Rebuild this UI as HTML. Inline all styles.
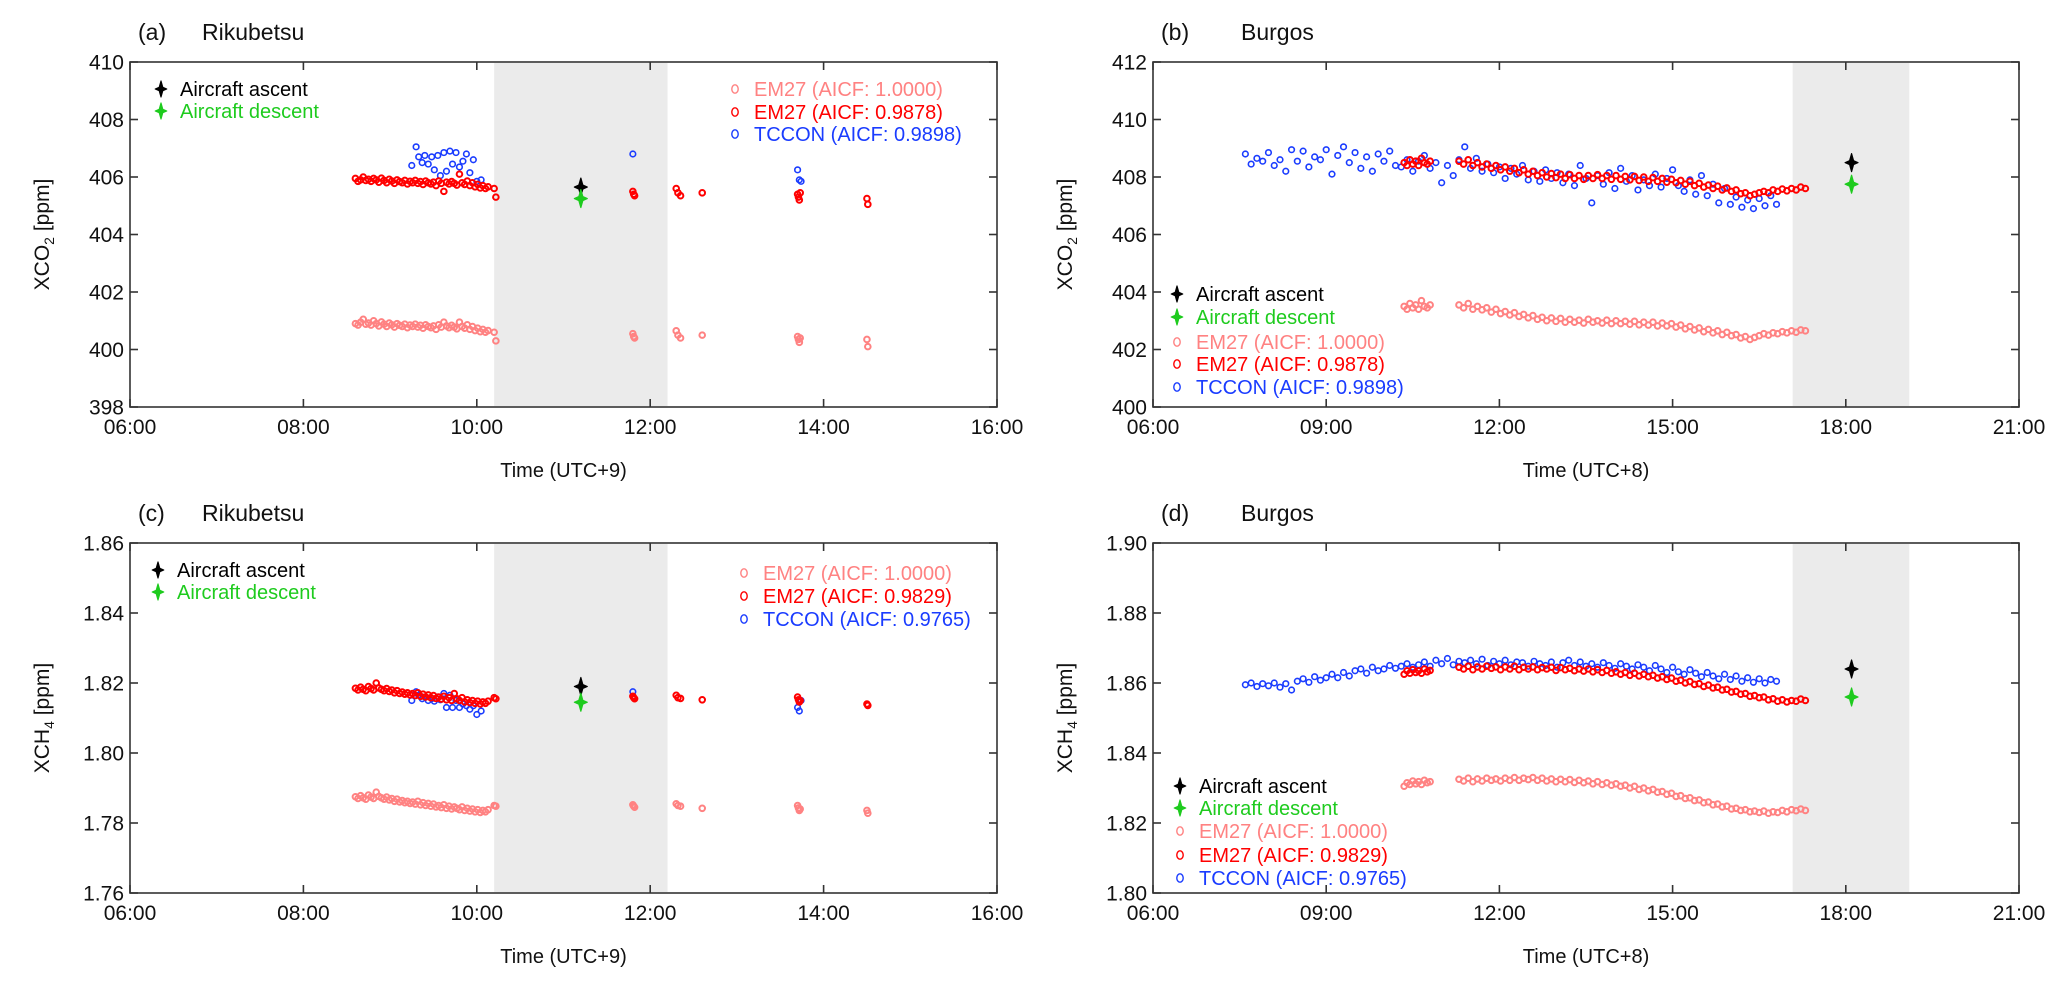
<!DOCTYPE html>
<html><head><meta charset="utf-8"><style>
html,body{margin:0;padding:0;background:#fff;}
svg{display:block;font-family:"Liberation Sans",Arial,sans-serif;}
</style></head><body>
<svg id="fig" width="2067" height="986" viewBox="0 0 2067 986" xmlns="http://www.w3.org/2000/svg"></svg>
<script>
// ---------- DATA ----------
var rikTimeEM = [8.60,8.63,8.66,8.69,8.72,8.75,8.78,8.81,8.84,8.87,8.90,8.93,8.96,8.99,9.02,9.05,9.08,9.11,9.14,9.17,9.20,9.23,9.26,9.29,9.32,9.35,9.38,9.41,9.44,9.47,9.50,9.53,9.56,9.59,9.62,9.65,9.68,9.71,9.74,9.77,9.80,9.83,9.86,9.89,9.92,9.95,9.98,10.01,10.04,10.07,10.10,10.13,
 10.20,10.22,11.80,11.81,11.82,12.30,12.32,12.35,12.60,13.70,13.71,13.72,13.73,14.50,14.51];
var rikTimeTC = [9.25,9.30,9.33,9.37,9.40,9.44,9.48,9.51,9.55,9.58,9.62,9.65,9.69,9.72,9.76,9.80,9.84,9.88,9.92,9.96,10.00,10.05,11.80,13.70,13.72,13.74];
var aCo2Em27Adj = [405.95,405.85,405.90,406.00,405.88,405.92,405.85,405.95,405.90,405.82,405.96,405.88,405.80,405.92,405.86,405.78,405.90,405.84,405.80,405.88,405.76,405.85,405.80,405.88,405.78,405.84,405.74,405.86,405.80,405.76,405.82,405.70,405.86,405.78,405.50,405.82,405.76,405.84,405.78,405.72,406.10,405.80,405.74,405.86,405.70,405.80,405.66,405.74,405.62,405.70,405.60,405.66,
 405.60,405.30,405.50,405.40,405.35,405.60,405.45,405.35,405.45,405.40,405.30,405.20,405.45,405.25,405.05];
var aCo2Em27Raw = [400.90,400.85,400.95,401.05,400.88,400.92,400.85,401.00,400.90,400.82,400.96,400.88,400.80,400.92,400.86,400.78,400.90,400.84,400.80,400.88,400.76,400.85,400.80,400.88,400.78,400.84,400.74,400.86,400.80,400.76,400.82,400.70,400.86,400.78,400.95,400.82,400.76,400.84,400.78,400.72,400.95,400.80,400.74,400.86,400.70,400.80,400.66,400.74,400.62,400.70,400.60,400.66,
 400.60,400.30,400.55,400.45,400.40,400.65,400.50,400.40,400.50,400.45,400.35,400.25,400.40,400.35,400.10];
var aCo2Tccon = [406.40,407.05,406.70,406.50,406.75,406.45,406.70,406.25,406.75,406.05,406.85,406.20,406.90,406.45,406.85,406.35,406.55,406.80,406.15,406.60,405.85,405.90,406.80,406.25,405.90,405.85];
var cCh4Em27Adj = [1.8185,1.8180,1.8188,1.8182,1.8178,1.8190,1.8184,1.8180,1.8200,1.8186,1.8182,1.8178,1.8184,1.8176,1.8180,1.8172,1.8178,1.8170,1.8174,1.8168,1.8172,1.8166,1.8170,1.8164,1.8172,1.8162,1.8168,1.8160,1.8166,1.8158,1.8164,1.8156,1.8160,1.8154,1.8162,1.8152,1.8158,1.8150,1.8170,1.8155,1.8150,1.8158,1.8146,1.8152,1.8144,1.8150,1.8142,1.8148,1.8140,1.8146,1.8142,1.8148,
 1.8158,1.8155,1.8162,1.8158,1.8155,1.8165,1.8158,1.8156,1.8152,1.8160,1.8152,1.8146,1.8150,1.8140,1.8136];
var cCh4Em27Raw = [1.7875,1.7870,1.7878,1.7872,1.7868,1.7880,1.7874,1.7870,1.7888,1.7876,1.7872,1.7868,1.7874,1.7866,1.7870,1.7862,1.7868,1.7860,1.7864,1.7858,1.7862,1.7856,1.7860,1.7854,1.7862,1.7852,1.7858,1.7850,1.7856,1.7848,1.7854,1.7846,1.7850,1.7844,1.7852,1.7842,1.7848,1.7840,1.7846,1.7842,1.7838,1.7846,1.7836,1.7842,1.7834,1.7840,1.7832,1.7838,1.7830,1.7836,1.7832,1.7838,
 1.7850,1.7848,1.7852,1.7848,1.7845,1.7855,1.7850,1.7848,1.7842,1.7850,1.7843,1.7836,1.7840,1.7836,1.7828];
var cCh4Tccon = [1.8150,1.8175,1.8165,1.8155,1.8160,1.8150,1.8155,1.8148,1.8160,1.8152,1.8170,1.8130,1.8165,1.8130,1.8150,1.8130,1.8140,1.8135,1.8125,1.8135,1.8110,1.8120,1.8175,1.8130,1.8120,1.8150];

var burTimeEM = [10.35,10.40,10.45,10.50,10.55,10.60,10.65,10.70,10.75,10.80,
 11.30,11.38,11.46,11.54,11.62,11.70,11.78,11.86,11.94,12.02,12.10,12.18,12.26,12.34,12.42,12.50,12.58,12.66,12.74,12.82,12.90,12.98,13.06,13.14,13.22,13.30,13.38,13.46,13.54,13.62,13.70,13.78,13.86,13.94,14.02,14.10,14.18,14.26,14.34,14.42,14.50,14.58,14.66,14.74,14.82,14.90,14.98,15.06,15.14,15.22,15.30,15.38,15.46,15.54,15.62,15.70,15.78,15.86,15.94,16.02,16.10,16.18,16.26,16.34,16.42,16.50,16.58,16.66,16.74,16.82,16.90,16.98,17.06,17.14,17.22,17.30];
var burTimeTC = [7.6,7.7,7.8,7.9,8.0,8.1,8.2,8.3,8.4,8.5,8.6,8.7,8.8,8.9,9.0,9.1,9.2,9.3,9.4,9.5,9.6,9.7,9.8,9.9,10.0,10.1,10.2,10.3,10.4,10.5,10.6,10.7,10.8,10.9,11.0,11.1,11.2,11.3,11.4,11.5,11.6,11.7,11.8,11.9,12.0,12.1,12.2,12.3,12.4,12.5,12.6,12.7,12.8,12.9,13.0,13.1,13.2,13.3,13.4,13.5,13.6,13.7,13.8,13.9,14.0,14.1,14.2,14.3,14.4,14.5,14.6,14.7,14.8,14.9,15.0,15.1,15.2,15.3,15.4,15.5,15.6,15.7,15.8,15.9,16.0,16.1,16.2,16.3,16.4,16.5,16.6,16.7,16.8];
var bCo2Em27Adj = [408.50,408.40,408.60,408.45,408.55,408.40,408.65,408.50,408.45,408.55,
 408.55,408.45,408.60,408.40,408.50,408.35,408.45,408.30,408.40,408.25,408.35,408.20,408.30,408.15,408.25,408.10,408.20,408.05,408.15,408.00,408.12,407.98,408.10,407.95,408.08,407.95,408.05,407.92,408.05,407.95,408.08,407.95,408.05,407.92,408.05,407.92,408.02,407.90,408.02,407.88,408.00,407.85,407.98,407.85,407.95,407.82,407.92,407.80,407.88,407.75,407.85,407.70,407.78,407.65,407.72,407.60,407.68,407.55,407.62,407.50,407.55,407.42,407.45,407.35,407.40,407.45,407.50,407.45,407.55,407.50,407.58,407.52,407.60,407.55,407.65,407.60];
var bCo2Em27Raw = [403.50,403.40,403.60,403.45,403.55,403.40,403.70,403.50,403.45,403.55,
 403.55,403.45,403.60,403.40,403.50,403.38,403.45,403.30,403.40,403.25,403.32,403.20,403.28,403.15,403.22,403.10,403.18,403.05,403.12,403.00,403.10,402.98,403.08,402.95,403.05,402.95,403.02,402.92,403.05,402.95,403.00,402.92,403.02,402.90,403.00,402.90,402.98,402.88,402.98,402.86,402.95,402.85,402.95,402.82,402.92,402.82,402.90,402.78,402.85,402.72,402.80,402.68,402.75,402.62,402.70,402.58,402.65,402.52,402.60,402.48,402.52,402.40,402.45,402.35,402.42,402.48,402.55,402.50,402.58,402.55,402.62,402.58,402.65,402.60,402.68,402.65];
var bCo2Tccon = [408.80,408.45,408.65,408.55,408.85,408.40,408.60,408.20,408.95,408.55,408.90,408.35,408.70,408.60,408.95,408.10,408.75,409.05,408.50,408.85,408.30,408.70,408.20,408.80,408.55,408.90,408.40,408.35,408.60,408.20,408.55,408.75,408.30,408.50,407.80,408.40,408.05,408.60,409.05,408.30,408.65,408.20,408.45,408.15,408.35,407.95,408.30,408.10,408.40,407.90,408.20,407.85,408.25,407.95,408.15,407.80,408.10,407.70,408.40,407.95,407.10,408.05,407.75,408.15,407.60,408.30,407.85,408.05,407.55,407.90,407.70,408.10,407.65,407.95,408.25,407.70,407.50,407.90,407.40,408.05,407.35,407.75,407.10,407.60,407.05,407.30,406.95,407.20,406.90,407.25,407.00,407.35,407.05];
var dCh4Em27Adj = [1.8625,1.8635,1.8628,1.8638,1.8630,1.8635,1.8628,1.8640,1.8632,1.8636,
 1.8645,1.8640,1.8648,1.8638,1.8646,1.8640,1.8648,1.8642,1.8646,1.8638,1.8646,1.8640,1.8648,1.8638,1.8645,1.8640,1.8646,1.8638,1.8644,1.8640,1.8645,1.8636,1.8644,1.8638,1.8642,1.8635,1.8640,1.8634,1.8640,1.8632,1.8638,1.8630,1.8636,1.8628,1.8632,1.8625,1.8630,1.8622,1.8628,1.8620,1.8625,1.8618,1.8622,1.8614,1.8618,1.8610,1.8614,1.8605,1.8608,1.8600,1.8604,1.8596,1.8598,1.8590,1.8594,1.8586,1.8588,1.8580,1.8582,1.8574,1.8576,1.8568,1.8570,1.8562,1.8564,1.8558,1.8560,1.8552,1.8555,1.8548,1.8552,1.8546,1.8550,1.8548,1.8554,1.8550];
var dCh4Em27Raw = [1.8305,1.8315,1.8310,1.8320,1.8312,1.8318,1.8310,1.8322,1.8315,1.8318,
 1.8325,1.8320,1.8328,1.8318,1.8326,1.8320,1.8328,1.8322,1.8326,1.8320,1.8328,1.8322,1.8330,1.8322,1.8328,1.8324,1.8330,1.8322,1.8328,1.8320,1.8326,1.8318,1.8325,1.8318,1.8324,1.8316,1.8322,1.8315,1.8320,1.8312,1.8318,1.8310,1.8315,1.8308,1.8312,1.8305,1.8308,1.8300,1.8305,1.8296,1.8300,1.8292,1.8296,1.8288,1.8290,1.8282,1.8285,1.8276,1.8278,1.8270,1.8272,1.8264,1.8266,1.8258,1.8260,1.8252,1.8254,1.8246,1.8248,1.8240,1.8242,1.8236,1.8238,1.8232,1.8234,1.8230,1.8234,1.8228,1.8232,1.8230,1.8236,1.8232,1.8238,1.8235,1.8240,1.8236];
var dCh4Tccon = [1.8595,1.8600,1.8590,1.8598,1.8592,1.8600,1.8588,1.8598,1.8580,1.8605,1.8612,1.8602,1.8618,1.8608,1.8615,1.8625,1.8615,1.8630,1.8620,1.8635,1.8640,1.8628,1.8645,1.8635,1.8640,1.8650,1.8642,1.8648,1.8655,1.8645,1.8652,1.8660,1.8648,1.8665,1.8655,1.8670,1.8652,1.8662,1.8658,1.8665,1.8655,1.8668,1.8650,1.8662,1.8655,1.8665,1.8652,1.8660,1.8658,1.8648,1.8662,1.8655,1.8650,1.8660,1.8645,1.8658,1.8665,1.8650,1.8660,1.8648,1.8655,1.8645,1.8658,1.8650,1.8642,1.8655,1.8648,1.8640,1.8652,1.8645,1.8635,1.8650,1.8640,1.8630,1.8645,1.8632,1.8625,1.8638,1.8628,1.8618,1.8630,1.8620,1.8612,1.8625,1.8610,1.8620,1.8605,1.8615,1.8602,1.8612,1.8600,1.8610,1.8605];

var aircraftTime = [11.2, 11.2, 18.1, 18.1];
var aircraftAscent = [405.65, 1.819, 408.5, 1.864];
var aircraftDescent = [405.25, 1.8145, 407.75, 1.856];

var rikXTicks = [6,8,10,12,14,16];
var rikXLabels = ["06:00","08:00","10:00","12:00","14:00","16:00"];
var burXTicks = [6,9,12,15,18,21];
var burXLabels = ["06:00","09:00","12:00","15:00","18:00","21:00"];
var co2RikYTicks = [398,400,402,404,406,408,410];
var co2BurYTicks = [400,402,404,406,408,410,412];
var ch4RikYTicks = [1.76,1.78,1.80,1.82,1.84,1.86];
var ch4BurYTicks = [1.80,1.82,1.84,1.86,1.88,1.90];
var rikNight = [10.2, 12.2];
var burNight = [17.08, 19.1];

// ---------- DRAW ----------
var NS = "http://www.w3.org/2000/svg";
var svg = document.getElementById('fig');
function mk(tag, attrs, parent) {
  var e = document.createElementNS(NS, tag);
  for (var k in attrs) e.setAttribute(k, attrs[k]);
  (parent || svg).appendChild(e);
  return e;
}
var PINK = "#ff8282", RED = "#ff0000", BLUE = "#1a3cff", GREEN = "#1ecb1e";

function star(g, cx, cy, color, s) {
  var w = s * 0.72, k = s * 0.22;
  var pts = [cx, cy - s, cx + k, cy - k, cx + w, cy, cx + k, cy + k, cx, cy + s, cx - k, cy + k, cx - w, cy, cx - k, cy - k];
  var p = mk('polygon', {points: pts.join(' '), fill: color, stroke: color, 'stroke-width': 1.2, 'stroke-linejoin': 'round'}, g);
  return p;
}

function panel(cfg) {
  var g = mk('g', {});
  
  
  var x0 = cfg.x0, x1 = cfg.x1, y0 = cfg.y0, y1 = cfg.y1;
  function sx(t) { return x0 + (t - cfg.xmin) / (cfg.xmax - cfg.xmin) * (x1 - x0); }
  function sy(v) { return y1 - (v - cfg.ymin) / (cfg.ymax - cfg.ymin) * (y1 - y0); }
  var band = mk('rect', {x: sx(cfg.night[0]), y: y0 + 1, width: sx(cfg.night[1]) - sx(cfg.night[0]), height: y1 - y0 - 2, fill: '#ebebeb'}, g);
  
  
  function series(ts, vs, color, nm, sw) {
    var sg = mk('g', {fill: 'none', stroke: color, 'stroke-width': sw}, g);
    
    
    var n = Math.min(ts.length, vs.length);
    for (var i = 0; i < n; i++) {
      var c = mk('circle', {cx: sx(ts[i]), cy: sy(vs[i]), r: 2.8}, sg);
      
      
    }
  }
  series(cfg.tEM, cfg.raw, PINK, 'em27-aicf-1-series', 2.0);
  series(cfg.tTC, cfg.tc, BLUE, 'tccon-series', 1.6);
  series(cfg.tEM, cfg.adj, RED, 'em27-adjusted-series', 2.0);
  var a1 = star(g, sx(aircraftTime[cfg.ai]), sy(aircraftAscent[cfg.ai]), '#000', 9);
  
  
  var a2 = star(g, sx(aircraftTime[cfg.ai]), sy(aircraftDescent[cfg.ai]), GREEN, 9);
  
  
  var fr = mk('rect', {x: x0, y: y0, width: x1 - x0, height: y1 - y0, fill: 'none', stroke: '#333', 'stroke-width': 1.6}, g);
  
  
  for (var i = 0; i < cfg.xt.length; i++) {
    var X = sx(cfg.xt[i]);
    mk('line', {x1: X, x2: X, y1: y1, y2: y1 - 8, stroke: '#333', 'stroke-width': 1.6}, g);
    mk('line', {x1: X, x2: X, y1: y0, y2: y0 + 8, stroke: '#333', 'stroke-width': 1.6}, g);
    var tl = mk('text', {x: X, y: y1 + 27, 'text-anchor': 'middle', 'font-size': 21, fill: '#111'}, g);
    tl.textContent = cfg.xl[i];
    
    
  }
  for (var j = 0; j < cfg.yt.length; j++) {
    var Y = sy(cfg.yt[j]);
    mk('line', {x1: x0, x2: x0 + 8, y1: Y, y2: Y, stroke: '#333', 'stroke-width': 1.6}, g);
    mk('line', {x1: x1, x2: x1 - 8, y1: Y, y2: Y, stroke: '#333', 'stroke-width': 1.6}, g);
    var yl = mk('text', {x: x0 - 6, y: Y + 7.5, 'text-anchor': 'end', 'font-size': 21, fill: '#111'}, g);
    yl.textContent = cfg.yfmt(cfg.yt[j]);
    
    
  }
  var xt = mk('text', {x: (x0 + x1) / 2, y: y1 + 70, 'text-anchor': 'middle', 'font-size': 20, fill: '#111'}, g);
  xt.textContent = cfg.xtitle;
  
  
  var yt = mk('text', {transform: 'translate(' + (x0 - 81) + ',' + ((y0 + y1) / 2) + ') rotate(-90)', 'text-anchor': 'middle', 'font-size': 21, fill: '#111'}, g);
  yt.innerHTML = 'X' + cfg.gas + '<tspan font-size="14" dy="5">' + cfg.sub + '</tspan><tspan dy="-5"> [ppm]</tspan>';
  
  
  var t1 = mk('text', {x: x0 + 8, y: y0 - 22, 'font-size': 23, fill: '#111'}, g);
  t1.textContent = cfg.letter;
  
  
  var t2 = mk('text', {x: x0 + cfg.titleDx, y: y0 - 22, 'font-size': 23, fill: '#111'}, g);
  t2.textContent = cfg.site;
  
  
  function legStar(x, y, color, label) {
    var lg = mk('g', {}, g);
    
    
    star(lg, x, y, color, 8);
    var t = mk('text', {x: x + 19, y: y + 7, 'font-size': 20, fill: color}, lg);
    t.textContent = label;
  }
  function legCirc(x, y, color, label) {
    var lg = mk('g', {}, g);
    
    
    mk('ellipse', {cx: x, cy: y, rx: 3.2, ry: 4.2, fill: 'none', stroke: color, 'stroke-width': 1.4}, lg);
    var t = mk('text', {x: x + 19, y: y + 7, 'font-size': 20, fill: color}, lg);
    t.textContent = label;
  }
  var L = cfg.leg;
  legStar(L.sx, L.sy[0], '#000', 'Aircraft ascent');
  legStar(L.sx, L.sy[1], GREEN, 'Aircraft descent');
  legCirc(L.cx, L.cy[0], PINK, 'EM27 (AICF: 1.0000)');
  legCirc(L.cx, L.cy[1], RED, 'EM27 (AICF: ' + cfg.aicfEM + ')');
  legCirc(L.cx, L.cy[2], BLUE, 'TCCON (AICF: ' + cfg.aicfTC + ')');
}

var f0 = function (v) { return String(v); };
var f2 = function (v) { return v.toFixed(2); };

panel({name: 'panel-a-rikubetsu-xco2', x0: 130, x1: 997, y0: 62, y1: 407, xmin: 6, xmax: 16, ymin: 398, ymax: 410,
  tEM: rikTimeEM, tTC: rikTimeTC, raw: aCo2Em27Raw, adj: aCo2Em27Adj, tc: aCo2Tccon, ai: 0, night: rikNight,
  xt: rikXTicks, xl: rikXLabels, yt: co2RikYTicks, yfmt: f0, xtitle: 'Time (UTC+9)', gas: 'CO', sub: '2',
  letter: '(a)', site: 'Rikubetsu', titleDx: 72, aicfEM: '0.9878', aicfTC: '0.9898',
  leg: {sx: 161, sy: [89, 111], cx: 735, cy: [89, 112, 134]}});
panel({name: 'panel-b-burgos-xco2', x0: 1153, x1: 2019, y0: 62, y1: 407, xmin: 6, xmax: 21, ymin: 400, ymax: 412,
  tEM: burTimeEM, tTC: burTimeTC, raw: bCo2Em27Raw, adj: bCo2Em27Adj, tc: bCo2Tccon, ai: 2, night: burNight,
  xt: burXTicks, xl: burXLabels, yt: co2BurYTicks, yfmt: f0, xtitle: 'Time (UTC+8)', gas: 'CO', sub: '2',
  letter: '(b)', site: 'Burgos', titleDx: 88, aicfEM: '0.9878', aicfTC: '0.9898',
  leg: {sx: 1177, sy: [294, 317], cx: 1177, cy: [342, 364, 387]}});
panel({name: 'panel-c-rikubetsu-xch4', x0: 130, x1: 997, y0: 543, y1: 893, xmin: 6, xmax: 16, ymin: 1.76, ymax: 1.86,
  tEM: rikTimeEM, tTC: rikTimeTC, raw: cCh4Em27Raw, adj: cCh4Em27Adj, tc: cCh4Tccon, ai: 1, night: rikNight,
  xt: rikXTicks, xl: rikXLabels, yt: ch4RikYTicks, yfmt: f2, xtitle: 'Time (UTC+9)', gas: 'CH', sub: '4',
  letter: '(c)', site: 'Rikubetsu', titleDx: 72, aicfEM: '0.9829', aicfTC: '0.9765',
  leg: {sx: 158, sy: [570, 592], cx: 744, cy: [573, 596, 619]}});
panel({name: 'panel-d-burgos-xch4', x0: 1153, x1: 2019, y0: 543, y1: 893, xmin: 6, xmax: 21, ymin: 1.80, ymax: 1.90,
  tEM: burTimeEM, tTC: burTimeTC, raw: dCh4Em27Raw, adj: dCh4Em27Adj, tc: dCh4Tccon, ai: 3, night: burNight,
  xt: burXTicks, xl: burXLabels, yt: ch4BurYTicks, yfmt: f2, xtitle: 'Time (UTC+8)', gas: 'CH', sub: '4',
  letter: '(d)', site: 'Burgos', titleDx: 88, aicfEM: '0.9829', aicfTC: '0.9765',
  leg: {sx: 1180, sy: [786, 808], cx: 1180, cy: [831, 855, 878]}});
</script>
</body></html>
